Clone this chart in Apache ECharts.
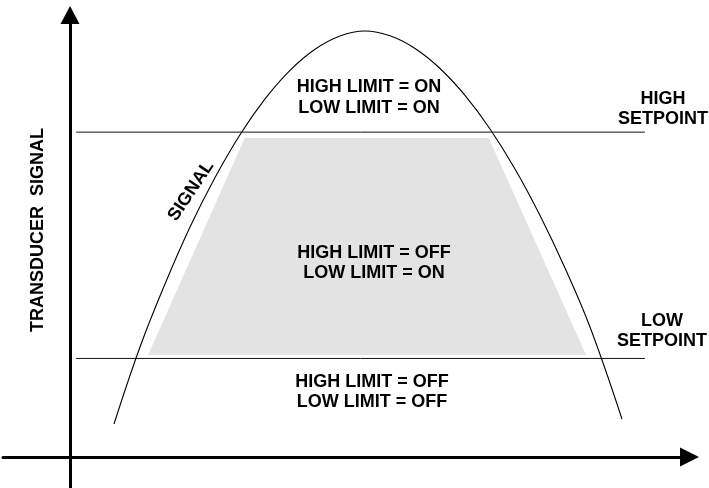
<!DOCTYPE html>
<html><head><meta charset="utf-8">
<script src="https://cdn.jsdelivr.net/npm/echarts@6/dist/echarts.min.js"></script>
<style>html,body{margin:0;padding:0;background:#fff}#c{width:709px;height:488px}</style>
</head><body><div id="c"></div>
<script>
// Transducer signal curve (time units 0-100, signal units 0-100)
const signalTime  = [7.10, 11.30, 15.33, 19.37, 23.41, 27.44, 31.48, 35.51, 39.55, 43.58, 47.62, 51.65, 55.69, 59.73, 63.76, 67.80, 71.83, 75.87, 79.90, 83.94, 89.10];
const signalLevel = [7.47, 24.89, 39.14, 52.04, 63.24, 72.92, 81.02, 87.49, 92.26, 95.27, 96.38, 95.29, 92.42, 87.90, 81.81, 74.21, 65.16, 54.64, 42.76, 29.41, 8.60];
// Setpoints
const setpointNames  = ['HIGH SETPOINT', 'LOW SETPOINT'];
const setpointLevels = [73.5, 22.3];
const setpointSpan   = [1.0, 92.8];
// Shaded band (high limit off, low limit on)
const bandTopTime    = [28.2, 67.6];
const bandBottomTime = [12.6, 83.3];
const bandLevels     = [23.1, 72.2];
// Region texts
const regionTexts = ['HIGH LIMIT = ON\nLOW LIMIT = ON', 'HIGH LIMIT = OFF\nLOW LIMIT = ON', 'HIGH LIMIT = OFF\nLOW LIMIT = OFF'];
const axisTitle = 'TRANSDUCER  SIGNAL';
const curveTitle = 'SIGNAL';

const FONT = 'bold 18px "Liberation Sans", Arial, sans-serif';
const curveData = signalTime.map((t, i) => [t, signalLevel[i]]);
const bandPoly = [
  [bandBottomTime[0], bandLevels[0]],
  [bandTopTime[0], bandLevels[1]],
  [bandTopTime[1], bandLevels[1]],
  [bandBottomTime[1], bandLevels[0]]
];

const series = [
  {
    type: 'custom', silent: true, z: 1,
    data: bandPoly,
    renderItem: function (params, api) {
      if (params.dataIndex !== 0) return null;
      return { type: 'polygon', shape: { points: bandPoly.map(p => api.coord(p)) }, style: { fill: '#e3e3e3' } };
    }
  },
  {
    type: 'line', name: 'SIGNAL', data: curveData, smooth: 0.4, symbol: 'none', z: 4,
    lineStyle: { color: '#000', width: 1.1 }
  }
];
setpointLevels.forEach((lv, i) => {
  series.push({
    type: 'line', name: setpointNames[i], symbol: 'none', z: 3,
    data: [[setpointSpan[0], lv], [setpointSpan[1], lv]],
    lineStyle: { color: '#111', width: 1 }
  });
});

const txt = (text, x, y, lh, extra) => Object.assign({
  type: 'text', x: x, y: y, z: 10,
  style: { text: text, font: FONT, fill: '#000', align: 'center', verticalAlign: 'middle', lineHeight: lh }
}, extra || {});

const chart = echarts.init(document.getElementById('c'), null, { renderer: 'canvas' });
chart.setOption({
  animation: false,
  backgroundColor: '#fff',
  grid: { left: 3, right: 19.5, top: 15, bottom: 0, containLabel: false },
  xAxis: {
    type: 'value', min: -10.82, max: 100,
    axisLine: { show: true, onZero: true, symbol: ['none', 'triangle'], symbolSize: [19, 19], lineStyle: { color: '#000', width: 3 } },
    axisTick: { show: false }, axisLabel: { show: false }, splitLine: { show: false }
  },
  yAxis: {
    type: 'value', min: -7.01, max: 100,
    axisLine: { show: true, onZero: true, symbol: ['none', 'triangle'], symbolSize: [19, 18], lineStyle: { color: '#000', width: 3 } },
    axisTick: { show: false }, axisLabel: { show: false }, splitLine: { show: false }
  },
  graphic: [
    txt(axisTitle, 38, 230, 20, { rotation: Math.PI / 2 }),
    txt(curveTitle, 191, 191, 20, { rotation: 56.3 * Math.PI / 180 }),
    txt(regionTexts[0], 369, 98, 21),
    txt(regionTexts[1], 374, 263.5, 20),
    txt(regionTexts[2], 372, 392, 20),
    txt('HIGH\nSETPOINT', 663, 109, 20),
    txt('LOW\nSETPOINT', 662, 331, 20)
  ],
  series: series
});
</script></body></html>
